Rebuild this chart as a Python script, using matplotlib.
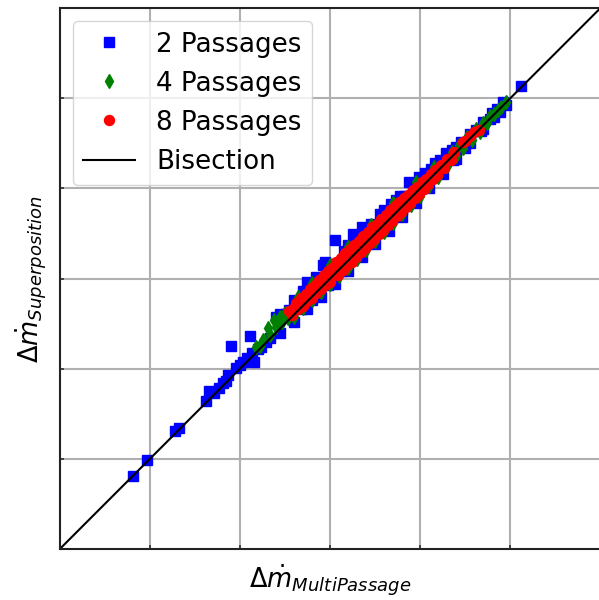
import matplotlib
matplotlib.use("Agg")
import matplotlib.pyplot as plt

# ---- data ----
p2_x = [0.82, 0.97, 1.28, 1.33, 1.63, 1.66, 1.71, 1.77, 1.81, 1.85, 1.87, 1.90, 1.96, 2.00,
        2.03, 2.08, 2.11, 2.14, 2.16, 2.20, 2.24, 2.29, 2.33, 2.40, 2.44, 2.51, 2.55, 2.58,
        2.68, 2.75, 2.77, 2.80, 2.92, 2.94, 2.98, 3.05, 3.12, 3.25, 3.30, 3.36, 3.45, 3.55,
        3.62, 3.73, 3.80, 3.82, 3.88, 3.95, 3.99, 4.08, 4.16, 4.22, 4.29, 4.36, 4.45, 4.50,
        4.62, 4.68, 4.77, 4.82, 4.88, 4.95, 5.12,
        2.45, 2.60, 2.75, 2.90, 3.05, 3.20, 3.35, 3.50, 3.65, 3.80, 3.95, 4.10, 4.25, 4.40,
        4.55, 4.70,
        2.60, 2.70, 2.85, 3.00, 3.15, 3.20, 3.30, 3.45, 3.60, 3.68, 3.78, 3.92, 4.05, 4.12,
        4.22, 4.35, 4.40, 4.55, 4.70, 4.80, 4.85, 4.92]
p2_y = [0.81, 0.99, 1.31, 1.34, 1.64, 1.76, 1.73, 1.79, 1.84, 1.87, 1.93, 2.25, 2.01, 2.04,
        2.08, 2.12, 2.36, 2.18, 2.08, 2.22, 2.24, 2.30, 2.34, 2.58, 2.61, 2.61, 2.65, 2.55,
        2.66, 2.96, 2.95, 2.76, 3.15, 3.19, 2.93, 3.43, 3.08, 3.50, 3.26, 3.57, 3.41, 3.72,
        3.58, 3.87, 3.76, 3.92, 4.07, 3.90, 4.13, 4.03, 4.28, 4.18, 4.39, 4.31, 4.52, 4.45,
        4.65, 4.64, 4.77, 4.79, 4.85, 4.92, 5.13,
        2.40, 2.52, 2.66, 2.80, 2.94, 3.09, 3.24, 3.38, 3.53, 3.68, 3.84, 4.00, 4.16, 4.33,
        4.50, 4.66,
        2.76, 2.86, 3.02, 3.16, 3.31, 3.37, 3.47, 3.61, 3.76, 3.83, 3.92, 4.04, 4.17, 4.22,
        4.31, 4.43, 4.46, 4.60, 4.74, 4.84, 4.88, 4.96]

p4_x = [2.18, 2.22, 2.26, 2.31, 2.33, 2.38, 2.40, 2.44, 2.47, 2.50, 2.53,
        2.60, 2.70, 2.80, 2.90, 3.00, 3.10, 3.20, 3.30, 3.40, 3.50, 3.60, 3.70, 3.80, 3.90,
        4.00, 4.10, 4.20, 4.30,
        2.65, 2.80, 3.00, 3.20, 3.45, 3.70, 3.95, 4.15,
        4.35, 4.40, 4.43, 4.48, 4.52, 4.57, 4.62, 4.66, 4.70, 4.74, 4.78, 4.82, 4.86, 4.90, 4.95]
p4_y = [2.24, 2.25, 2.32, 2.45, 2.38, 2.54, 2.46, 2.58, 2.52, 2.62, 2.56,
        2.58, 2.67, 2.76, 2.85, 2.94, 3.03, 3.12, 3.22, 3.32, 3.42, 3.52, 3.62, 3.72, 3.82,
        3.92, 4.03, 4.13, 4.25,
        2.80, 2.95, 3.15, 3.35, 3.60, 3.84, 4.07, 4.24,
        4.40, 4.36, 4.48, 4.45, 4.57, 4.54, 4.66, 4.63, 4.73, 4.72, 4.80, 4.82, 4.87, 4.90, 4.96]

p8_x = [2.55, 2.58, 2.62, 2.64, 2.68, 2.70, 2.73, 2.75, 2.78, 2.80, 2.83, 2.85, 2.88, 2.90,
        2.93, 2.95, 2.98, 3.00, 3.02, 3.04, 3.07, 3.09, 3.12, 3.14, 3.17, 3.19, 3.22, 3.24,
        3.27, 3.29, 3.32, 3.34, 3.37, 3.39, 3.42, 3.44, 3.47, 3.49, 3.52, 3.54, 3.57, 3.59,
        3.62, 3.64, 3.67, 3.69, 3.72, 3.74, 3.77, 3.79, 3.82, 3.84, 3.87, 3.89, 3.92, 3.94,
        3.97, 3.99, 4.02, 4.04, 4.07, 4.09, 4.12, 4.14, 4.17, 4.19, 4.23, 4.26, 4.30, 4.34,
        4.38, 4.47, 4.50, 4.55, 4.60, 4.65,
        2.60, 2.72, 2.85, 2.97, 3.10, 3.22, 3.35, 3.47, 3.60, 3.72, 3.85, 3.97, 4.10, 4.22]
p8_y = [2.64, 2.60, 2.73, 2.66, 2.78, 2.70, 2.83, 2.75, 2.89, 2.79, 2.93, 2.84, 2.98, 2.88,
        3.04, 2.93, 3.09, 2.96, 3.12, 3.04, 3.18, 3.04, 3.23, 3.10, 3.28, 3.15, 3.33, 3.19,
        3.37, 3.24, 3.42, 3.29, 3.47, 3.34, 3.52, 3.39, 3.57, 3.44, 3.61, 3.49, 3.66, 3.54,
        3.71, 3.59, 3.76, 3.64, 3.80, 3.69, 3.85, 3.74, 3.89, 3.79, 3.93, 3.84, 3.98, 3.89,
        4.02, 3.94, 4.07, 3.99, 4.11, 4.05, 4.16, 4.10, 4.20, 4.15, 4.26, 4.23, 4.33, 4.32,
        4.40, 4.51, 4.53, 4.58, 4.63, 4.65,
        2.68, 2.77, 2.90, 3.02, 3.15, 3.27, 3.39, 3.51, 3.63, 3.75, 3.88, 3.99, 4.12, 4.23]

bis = [0.0, 6.0]
labels = ["2 Passages", "4 Passages", "8 Passages", "Bisection"]
grid_ticks = [1, 2, 3, 4, 5]

fig = plt.figure(figsize=(5.99, 6.0), dpi=100)
ax = fig.add_axes([59.5 / 599, (600 - 549.3) / 600, 541 / 599, 541.3 / 600])

ms = 7.2
ax.plot(p2_x, p2_y, linestyle="none", marker="s", color="#0000ff", markersize=ms, label=labels[0])
ax.plot(p4_x, p4_y, linestyle="none", marker="d", color="#008000", markersize=ms, label=labels[1])
ax.plot(p8_x, p8_y, linestyle="none", marker="o", color="#ff0000", markersize=ms, label=labels[2])
ax.plot(bis, bis, color="black", linewidth=1.5, label=labels[3])

ax.set_xlim(0, 6)
ax.set_ylim(0, 6)
ax.set_xticks(grid_ticks)
ax.set_yticks(grid_ticks)
ax.set_xticklabels([])
ax.set_yticklabels([])
ax.tick_params(direction="in", length=3, width=1.2, color="#333333")
ax.grid(True, color="#b0b0b0", linewidth=1.5)
ax.set_axisbelow(True)
for s in ax.spines.values():
    s.set_linewidth(1.5)
    s.set_color("#222222")

ax.set_xlabel(r"$\Delta\dot{m}_{MultiPassage}$", fontsize=18.5, labelpad=6)
ax.set_ylabel(r"$\Delta\dot{m}_{Superposition}$", fontsize=18.5, labelpad=4)

ax.legend(loc="upper left", fontsize=18.8)

fig.savefig("out.png", dpi=100)
